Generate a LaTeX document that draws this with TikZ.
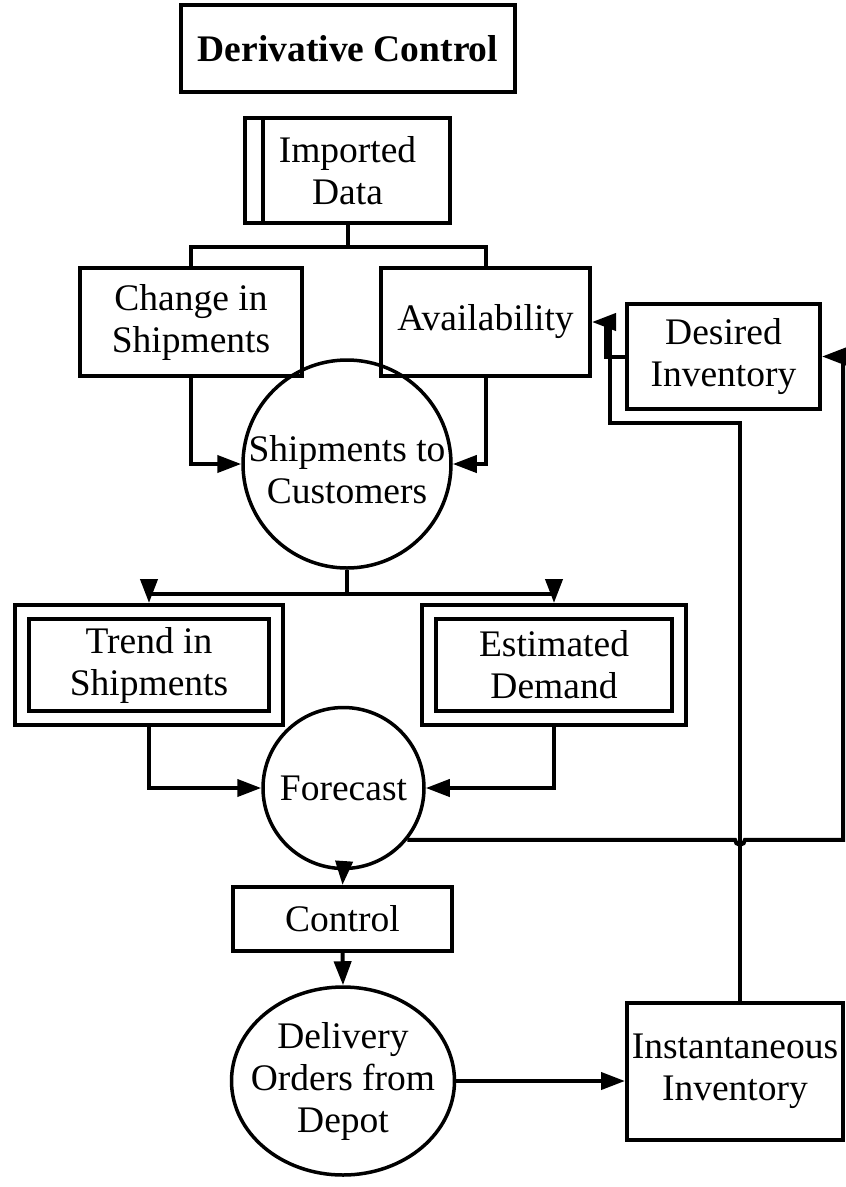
\documentclass[tikz,border=0pt]{standalone}
\usepackage{fontspec}
\setmainfont{Liberation Serif}
\usetikzlibrary{arrows.meta,calc,shapes.geometric}
\begin{document}
\begin{tikzpicture}[x=1pt,y=-1pt,
  txt/.style={font=\fontsize{37.5}{42}\selectfont, align=center, inner sep=0pt},
  box/.style={txt, draw, line width=4pt},
  dbl/.style={txt, draw, line width=4pt, double=white, double distance=10pt, outer sep=9pt},
  round/.style={draw, circle, line width=3.5pt, inner sep=0pt},
  oval/.style={draw, ellipse, line width=3.5pt, inner sep=0pt},
  conn/.style={line width=4pt},
  arr/.style={conn, -{Triangle[length=24pt,width=17pt]}}]
\useasboundingbox (0,0) rectangle (846,1187);

% process boxes
\node[box, font=\fontsize{37.5}{42}\selectfont\bfseries, minimum width=334pt, minimum height=87pt] (title) at (348,48.5) {Derivative Control};
\node[box, minimum width=205pt, minimum height=105pt] (imp) at (347.5,170.5) {Imported\\Data};
\draw[conn] ($(imp.north west)+(20,2)$) -- ($(imp.south west)+(20,-2)$);
\node[box, minimum width=222pt, minimum height=108pt] (chg) at (191,322) {Change in\\Shipments};
\node[box, minimum width=209pt, minimum height=108pt] (av) at (485.5,322) {Availability};
\node[box, minimum width=193pt, minimum height=105pt] (des) at (723.5,356.5) {Desired\\Inventory};

% shipments circle
\node[round, minimum size=208pt] (ship) at (347,464) {};
\node[txt] (shiptxt) at (347,470) {Shipments to\\Customers};

% double-bordered stores
\node[dbl, minimum width=254pt, minimum height=106pt] (tr) at (149,665) {Trend in\\Shipments};
\node[dbl, minimum width=250pt, minimum height=106pt] (est) at (554,665) {Estimated\\Demand};

% forecast and control chain
\node[round, minimum size=161pt] (fc) at (343.5,788) {};
\node[txt] (fctxt) at (343.5,788) {Forecast};
\node[box, minimum width=219pt, minimum height=64pt] (ctl) at (342.5,919) {Control};
\node[oval, minimum width=223pt, minimum height=188pt] (dl) at (343,1081) {};
\node[txt] (dltxt) at (343,1081) {Delivery\\Orders from\\Depot};
\node[box, minimum width=216pt, minimum height=137pt] (inst) at (735,1071.5) {Instantaneous\\Inventory};

% routing points
\coordinate (impsplit) at ($(imp.south)+(0,22)$);
\coordinate (shipsplit) at ($(ship.south)+(0,24)$);
\coordinate (instout) at ($(inst.north)+(5,0)$);
\coordinate (fbA) at (740,423);
\coordinate (fbB) at (610,423);
\coordinate (desB) at (606,0);
\coordinate (rail) at (843,0);
\coordinate (fcout) at (fc.-39.3);
\coordinate (hop) at (fcout -| instout);

% connectors
\draw[conn] (imp.south) -- (impsplit);
\draw[conn] (chg.north) |- (impsplit) -| (av.north);
\draw[arr] (chg.south) |- (ship.west);
\draw[arr] (av.south) |- (ship.east);
\draw[conn] (ship.south) -- (shipsplit);
\draw[arr] (shipsplit) -| (tr.north);
\draw[arr] (shipsplit) -| (est.north);
\draw[arr] (tr.south) |- (fc.west);
\draw[arr] (est.south) |- (fc.east);
\draw[arr] (fc.south) -- (ctl.north);
\draw[arr] (ctl.south) -- (dl.north);
\draw[arr] (dl.east) -- (dl.east -| inst.west);
\draw[conn] (des.west) -- (des.west -| desB) -- (av.east -| desB);
\draw[arr] (instout) -- (fbA) -- (fbB) |- (av.east);
\draw[arr] (fcout) -- ($(hop)+(-5,0)$) arc[start angle=180, end angle=360, radius=5pt]
  -- (fcout -| rail) -- (des.east -| rail) -- (des.east);
\end{tikzpicture}
\end{document}
